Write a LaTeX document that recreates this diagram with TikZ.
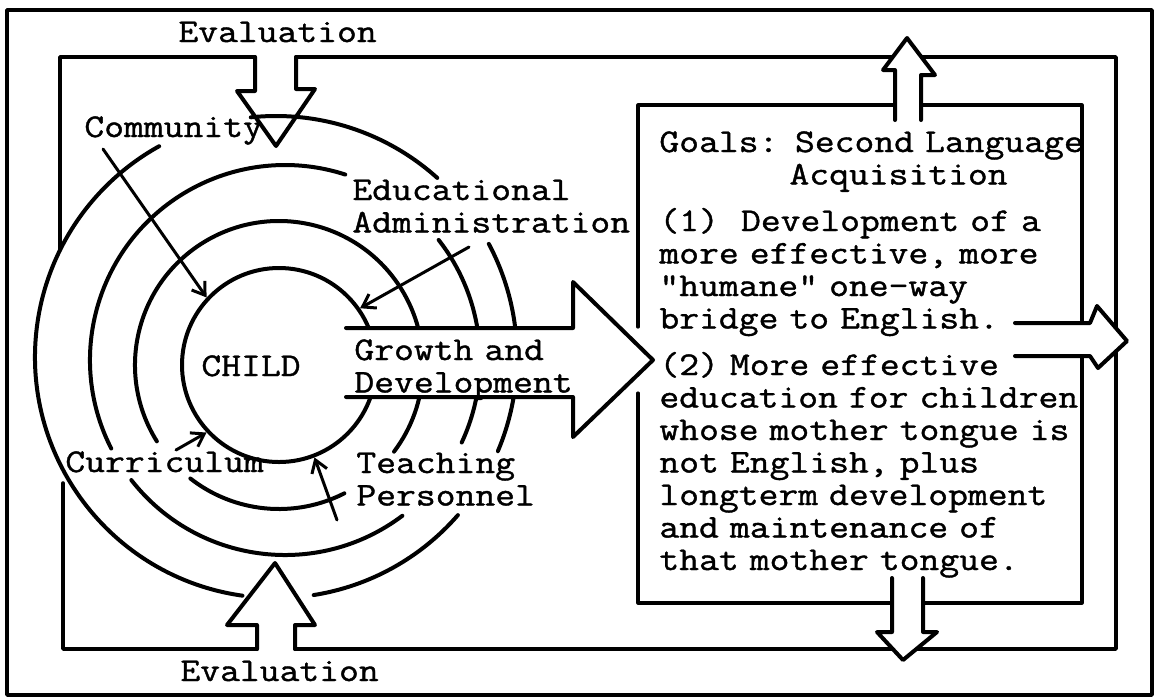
\documentclass[tikz,border=0pt]{standalone}
\usepackage{fontspec}
\setmonofont{Latin Modern Mono}[FakeStretch=1.16,FakeBold=1.2]
\usetikzlibrary{arrows.meta}
\newcommand\typefont{\fontsize{16.6pt}{16.25pt}\selectfont\ttfamily}
\begin{document}
\begin{tikzpicture}[x=0.5pt,y=-0.5pt,line cap=round,line join=round,>={Straight Barb[length=6pt,width=8pt]},
    ring/.style={line width=2pt},
    loopline/.style={line width=1.8pt},
    bigarrow/.style={line width=2pt,fill=white},
    feed/.style={->,line width=1.5pt},
    lbl/.style={font=\typefont,inner sep=0pt,anchor=base west,text width=12cm,align=left}]
  \useasboundingbox (0,0) rectangle (1160,698);
  \draw[line width=1.8pt] (7,10) rectangle (1152,695);
  % feedback loop
  \draw[loopline] (60,250) -- (60,57) -- (255,57);
  \draw[loopline] (296,57) -- (1116,57) -- (1116,649) -- (295,649);
  \draw[loopline] (257,649) -- (63,649) -- (63,483);
  % goals box
  \draw[line width=1.6pt] (638,327) -- (638,105) -- (1082,105) -- (1082,603) -- (638,603) -- (638,393);
  % rings round the child
  \node[circle,draw,line width=2pt,minimum size=97pt,inner sep=0pt] (child) at (279,365) {};
  \foreach \cx/\cy/\r/\s/\e in {279/365/144/148/397, 279/365/144/63/128,
      285/360/195/153/288, 285/360/195/322/385, 285/360/195/53/142,
      276/357/241/98/241, 276/357/241/264/312, 276/357/241/332/383, 276/357/241/41/81}
    \draw[ring] (\cx,\cy) ++(\s:\r) arc[start angle=\s,end angle=\e,radius=\r];
  % evaluation arrows
  \draw[line width=2pt] (255,57) -- (255,91) -- (237,91) -- (276,146) -- (315,89) -- (296,89) -- (296,57);
  \draw[line width=2pt] (257,649) -- (257,625) -- (227,625) -- (275,563) -- (315,625) -- (295,625) -- (295,649);
  % open block arrows
  \draw[bigarrow] (346,328) -- (573,328) -- (573,282) -- (653,360) -- (573,437) -- (573,397) -- (346,397);
  \draw[bigarrow] (1015,323) -- (1090,323) -- (1097,306) -- (1127,341) -- (1098,368) -- (1090,356) -- (1015,356);
  \draw[bigarrow] (895,120) -- (895,70) -- (883,70) -- (907,38) -- (935,75) -- (921,75) -- (921,120);
  \draw[bigarrow] (892,578) -- (892,632) -- (877,632) -- (903,660) -- (937,632) -- (923,632) -- (923,578);
  % labels
  \node[lbl] (evaltop) at (178,42) {Evaluation};
  \node[lbl] (evalbot) at (180,681) {Evaluation};
  \node[lbl] (community) at (84,137) {Community};
  \node[lbl] (admin) at (352,200) {Educational\\Administration};
  \node[lbl] (childlbl) at (201,376) {CHILD};
  \node[lbl] (growth) at (354,360) {Growth and\\Development};
  \node[lbl] (curric) at (65,472) {Curriculum};
  \node[lbl] (teaching) at (356,473) {Teaching\\Personnel};
  \node[lbl] (goals) at (659,152) {Goals: Second Language\\
    \hphantom{Goals:\ }Acquisition\\[7pt]
    (1)\ \ Development of a\\
    more effective, more\\
    "humane" one-way\\
    bridge to English.\\[7pt]
    (2) More effective\\
    education for children\\
    whose mother tongue is\\
    not English, plus\\
    longterm development\\
    and maintenance of\\
    that mother tongue.};
  % influences on the child
  \coordinate (commtail) at (103,149);
  \coordinate (admintail) at (469,247);
  \coordinate (curtail) at (176,450);
  \coordinate (teachtail) at (337,520);
  \draw[feed] (commtail) -- (child.137);
  \draw[feed] (admintail) -- (child.35);
  \draw[feed] (curtail) -- (child.223);
  \draw[feed] (teachtail) -- (child.291);
\end{tikzpicture}
\end{document}
